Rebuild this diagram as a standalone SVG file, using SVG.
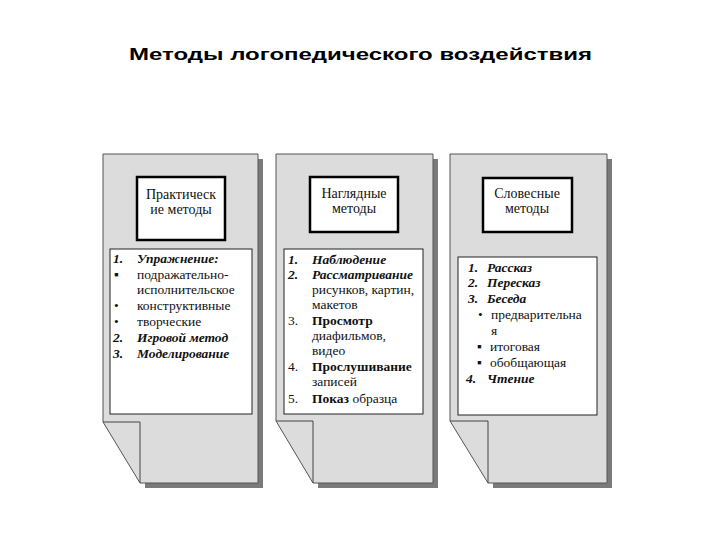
<svg xmlns="http://www.w3.org/2000/svg" width="720" height="540" viewBox="0 0 720 540">
<style>
.title{font-family:"Liberation Sans",Arial,sans-serif;font-weight:bold;font-size:17px;fill:#000}
.t{font-family:"Liberation Serif","Times New Roman",serif;font-size:13.5px;fill:#111}
.h{font-family:"Liberation Serif","Times New Roman",serif;font-size:14px;fill:#111;text-anchor:middle}
.bi{font-weight:bold;font-style:italic}
.b{font-weight:bold}
.panel{fill:#dcdcdc;stroke:#555;stroke-width:1}
.shadow{fill:#7a7a7a}
.fold{fill:none;stroke:#444;stroke-width:1}
.hdr{fill:#fff;stroke:#000;stroke-width:2.5}
.list{fill:#fff;stroke:#222;stroke-width:1}
</style>
<rect width="720" height="540" fill="#fff"/>
<text class="title" x="129" y="60" textLength="463" lengthAdjust="spacingAndGlyphs">Методы логопедического воздействия</text>

<g id="panel-practical">
<polygon class="shadow" points="258,159 263,159 263,488 145,488 145,483 258,483"/>
<path class="panel" d="M103,154 H258 V483 H140 L103,422 Z"/>
<path class="fold" d="M103,422 H140 V483"/>
<rect class="hdr" x="137" y="177" width="88" height="63"/>
<text class="h" x="181" y="199">Практическ</text>
<text class="h" x="181" y="214">ие методы</text>
<rect class="list" x="110" y="249" width="142" height="165"/>
<text class="t bi" x="113" y="263">1.</text><text class="t bi" x="137" y="263">Упражнение:</text>
<text class="t" x="114" y="279">▪</text><text class="t" x="137" y="279">подражательно-</text>
<text class="t" x="137" y="294">исполнительское</text>
<text class="t" x="114" y="310">•</text><text class="t" x="137" y="310">конструктивные</text>
<text class="t" x="114" y="326">•</text><text class="t" x="137" y="326">творческие</text>
<text class="t bi" x="113" y="342">2.</text><text class="t bi" x="137" y="342">Игровой метод</text>
<text class="t bi" x="113" y="358">3.</text><text class="t bi" x="137" y="358">Моделирование</text>
</g>

<g id="panel-visual">
<polygon class="shadow" points="433,159 438,159 438,488 318,488 318,483 433,483"/>
<path class="panel" d="M276,154 H433 V483 H313 L276,421 Z"/>
<path class="fold" d="M276,421 H313 V483"/>
<rect class="hdr" x="310" y="177" width="88" height="55"/>
<text class="h" x="354" y="198">Наглядные</text>
<text class="h" x="354" y="213">методы</text>
<rect class="list" x="284" y="249" width="139" height="165"/>
<text class="t bi" x="288" y="264">1.</text><text class="t bi" x="312" y="264">Наблюдение</text>
<text class="t bi" x="288" y="279">2.</text><text class="t bi" x="312" y="279">Рассматривание</text>
<text class="t" x="312" y="294">рисунков, картин,</text>
<text class="t" x="312" y="309">макетов</text>
<text class="t" x="288" y="325">3.</text><text class="t b" x="312" y="325">Просмотр</text>
<text class="t" x="312" y="340">диафильмов,</text>
<text class="t" x="312" y="355">видео</text>
<text class="t" x="288" y="371">4.</text><text class="t b" x="312" y="371">Прослушивание</text>
<text class="t" x="312" y="386">записей</text>
<text class="t" x="288" y="403">5.</text><text class="t" x="312" y="403"><tspan class="b">Показ</tspan> образца</text>
</g>

<g id="panel-verbal">
<polygon class="shadow" points="607,159 612,159 612,488 493,488 493,483 607,483"/>
<path class="panel" d="M450,154 H607 V483 H488 L450,421 Z"/>
<path class="fold" d="M450,421 H488 V483"/>
<rect class="hdr" x="483" y="178" width="89" height="54"/>
<text class="h" x="527" y="198">Словесные</text>
<text class="h" x="527" y="213">методы</text>
<rect class="list" x="458" y="257" width="139" height="158"/>
<text class="t bi" x="468" y="272">1.</text><text class="t bi" x="487" y="272">Рассказ</text>
<text class="t bi" x="468" y="287">2.</text><text class="t bi" x="487" y="287">Пересказ</text>
<text class="t bi" x="468" y="303">3.</text><text class="t bi" x="487" y="303">Беседа</text>
<text class="t" x="478" y="319">•</text><text class="t" x="491" y="319">предварительна</text>
<text class="t" x="491" y="335">я</text>
<text class="t" x="477" y="351">▪</text><text class="t" x="490" y="351">итоговая</text>
<text class="t" x="477" y="367">▪</text><text class="t" x="490" y="367">обобщающая</text>
<text class="t bi" x="466" y="383">4.</text><text class="t bi" x="487" y="383">Чтение</text>
</g>
</svg>
